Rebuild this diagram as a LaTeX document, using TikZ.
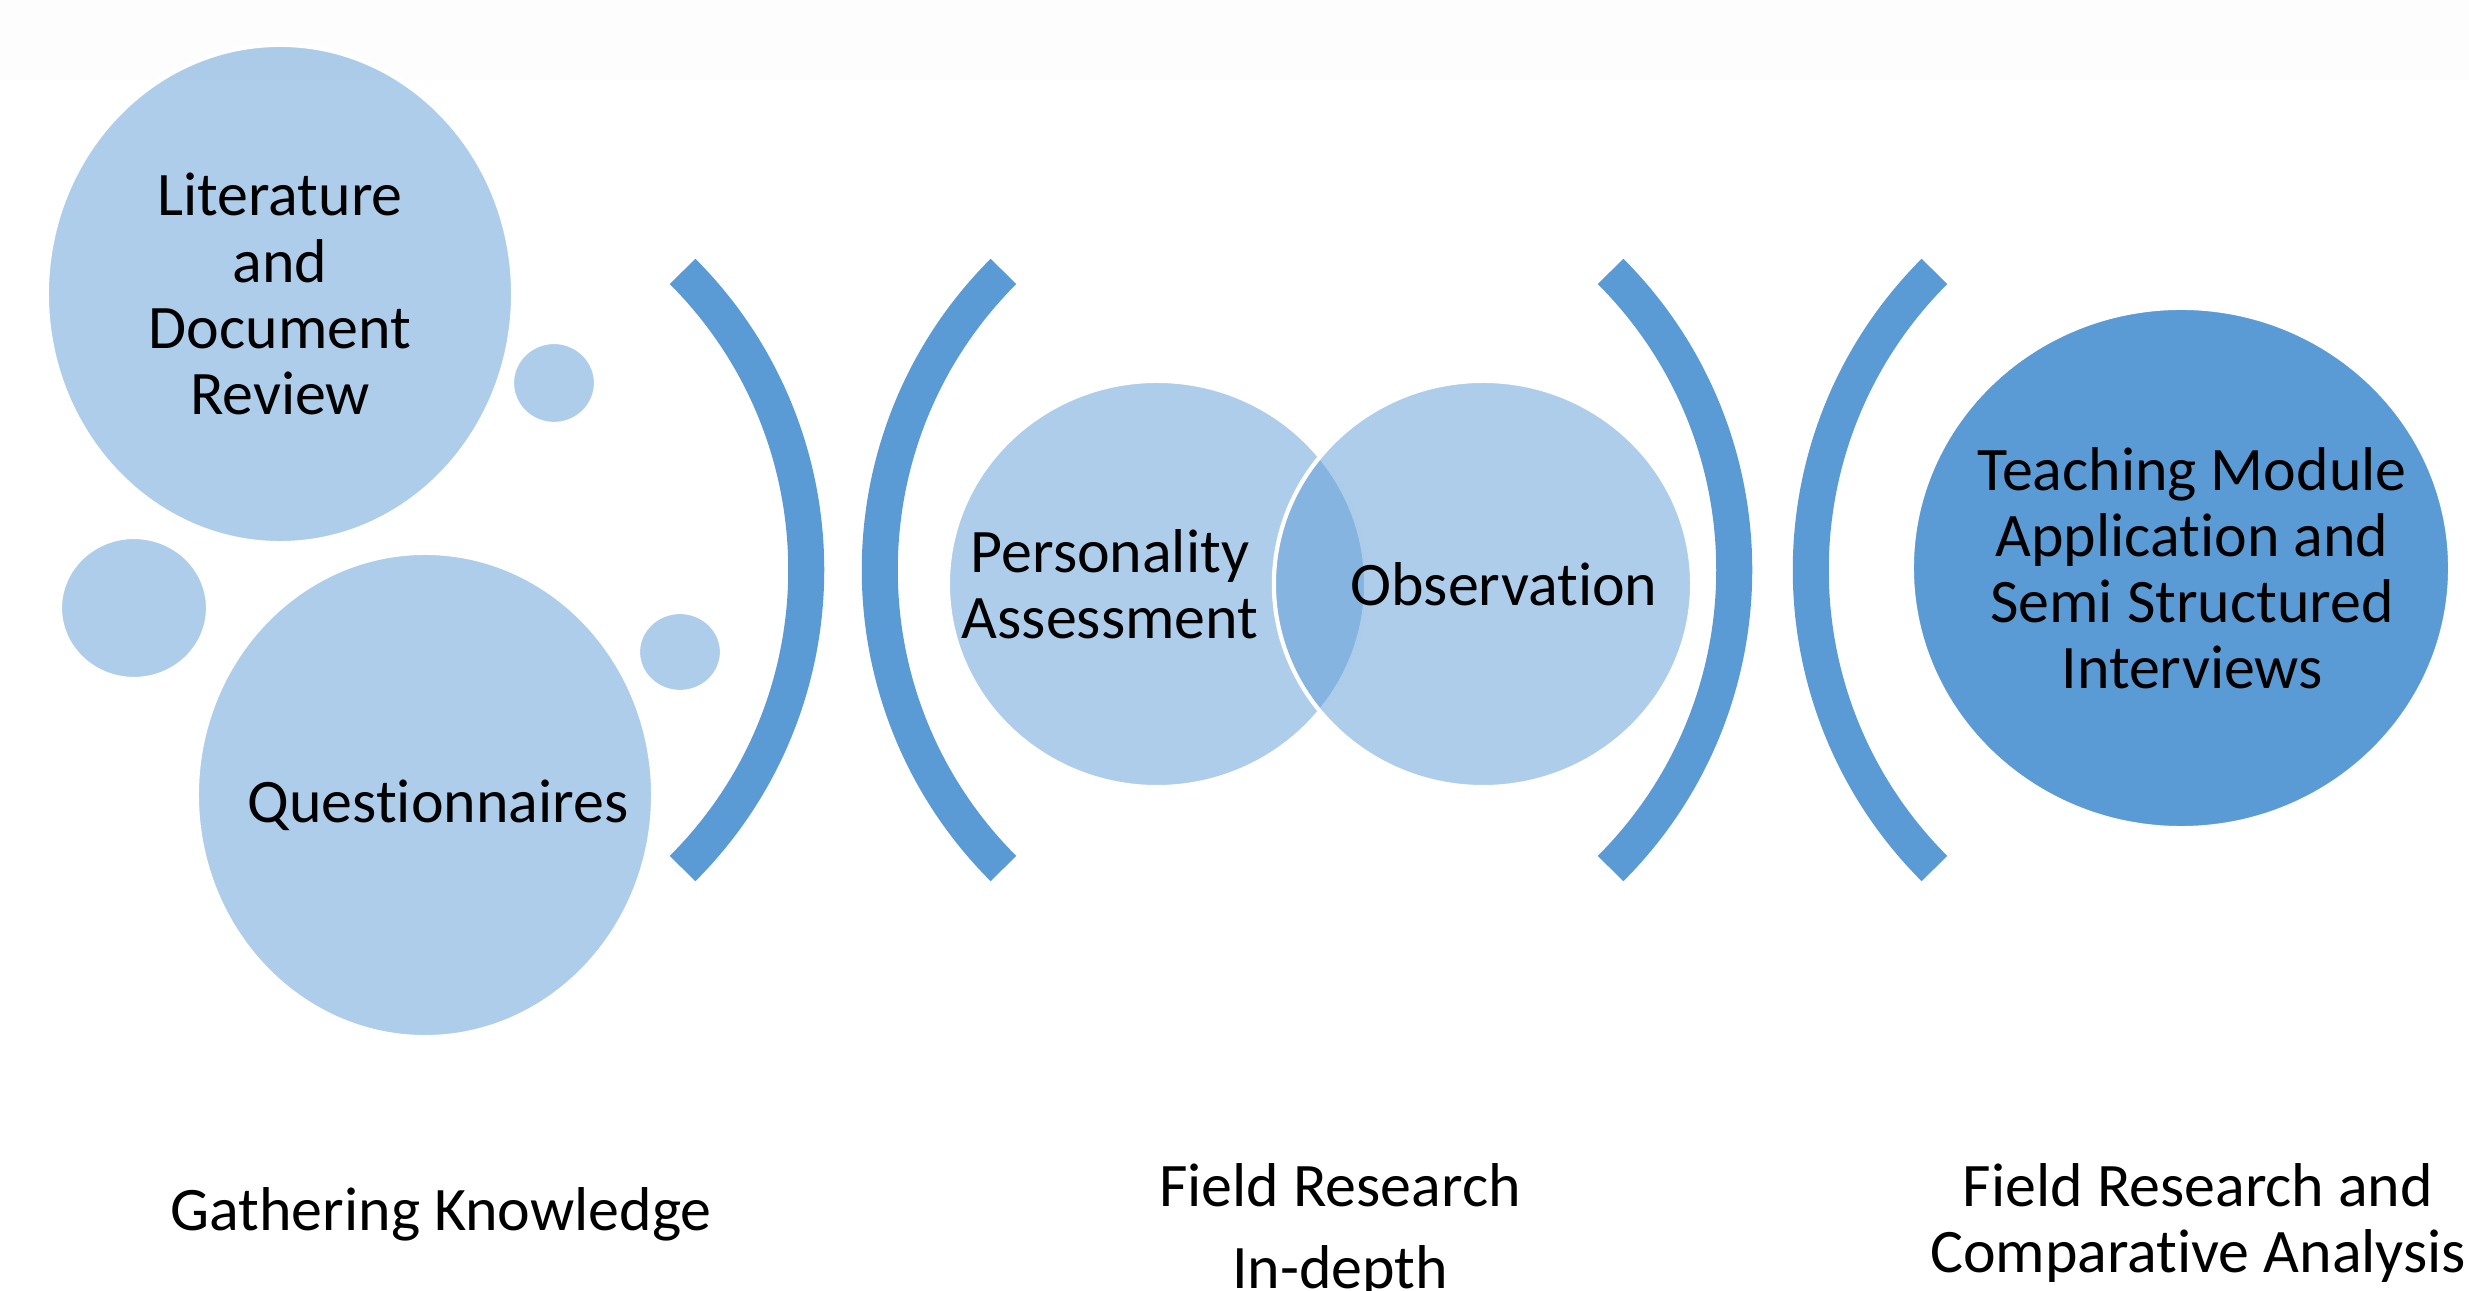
\documentclass[tikz,border=0pt]{standalone}
\usepackage{fontspec}
\setmainfont{Carlito}[Ligatures=NoCommon]
\usetikzlibrary{shapes.geometric}
\definecolor{accent}{HTML}{5B9BD5}

\begin{document}
\begin{tikzpicture}[x=0.01cm, y=0.01cm,
    bubble/.style={ellipse, inner sep=0pt, fill=accent, fill opacity=0.5, draw=white, line width=1.2pt},
    txt/.style={align=center, inner sep=0pt, font=\fontsize{17.6}{18.8}\selectfont},
    brace/.style={accent, line width=0.36cm}]
        \useasboundingbox (0,0) rectangle (2469,1291);
        \clip (0,0) rectangle (2469,1291);
        \fill[black!0.6] (0,1211) rectangle (2469,1291);
        \coordinate (c1) at (384,721);
        \coordinate (c2) at (1302,721);
        \coordinate (c3) at (1312,721);
        \coordinate (c4) at (2233,721);
        \node[bubble, minimum width=4.66cm, minimum height=4.98cm] (lit) at (280,997) {};
        \node[bubble, minimum width=0.84cm, minimum height=0.82cm] (dotA) at (554,908) {};
        \node[bubble, minimum width=1.48cm, minimum height=1.42cm] (dotB) at (134,683) {};
        \node[bubble, minimum width=4.56cm, minimum height=4.84cm] (que) at (425,496) {};
        \node[bubble, minimum width=0.84cm, minimum height=0.80cm] (dotC) at (680,639) {};
        \node[bubble, minimum width=4.18cm, minimum height=4.06cm] (per) at (1157,707) {};
        \node[bubble, minimum width=4.18cm, minimum height=4.06cm] (obs) at (1483,707) {};
        \node[bubble, fill opacity=1, minimum width=5.38cm, minimum height=5.20cm] (tea) at (2181,723) {};
        \draw[brace] (c1) ++(-45:4.22cm) arc[start angle=-45, end angle=45, radius=4.22cm];
        \draw[brace] (c2) ++(135:4.22cm) arc[start angle=135, end angle=225, radius=4.22cm];
        \draw[brace] (c3) ++(-45:4.22cm) arc[start angle=-45, end angle=45, radius=4.22cm];
        \draw[brace] (c4) ++(135:4.22cm) arc[start angle=135, end angle=225, radius=4.22cm];
        \node[txt] (lit-t) at (lit) {Literature\\and\\Document\\Review};
        \node[txt] (que-t) at ([xshift=0.13cm,yshift=-0.1cm]que) {Questionnaires};
        \node[txt] (per-t) at ([xshift=-0.47cm]per) {Personality\\Assessment};
        \node[txt] (obs-t) at ([xshift=0.21cm]obs) {Observation};
        \node[txt] (tea-t) at ([xshift=0.11cm]tea) {Teaching Module\\Application and\\Semi Structured\\Interviews};
        \node[txt] (gather) at (441,77) {Gathering Knowledge};
        \node[txt] (field) at (1340,60) {Field Research\\[0.16cm]In-depth};
        \node[txt] (compare) at (2198,68) {Field Research and\\Comparative Analysis};
    \end{tikzpicture}
\end{document}
